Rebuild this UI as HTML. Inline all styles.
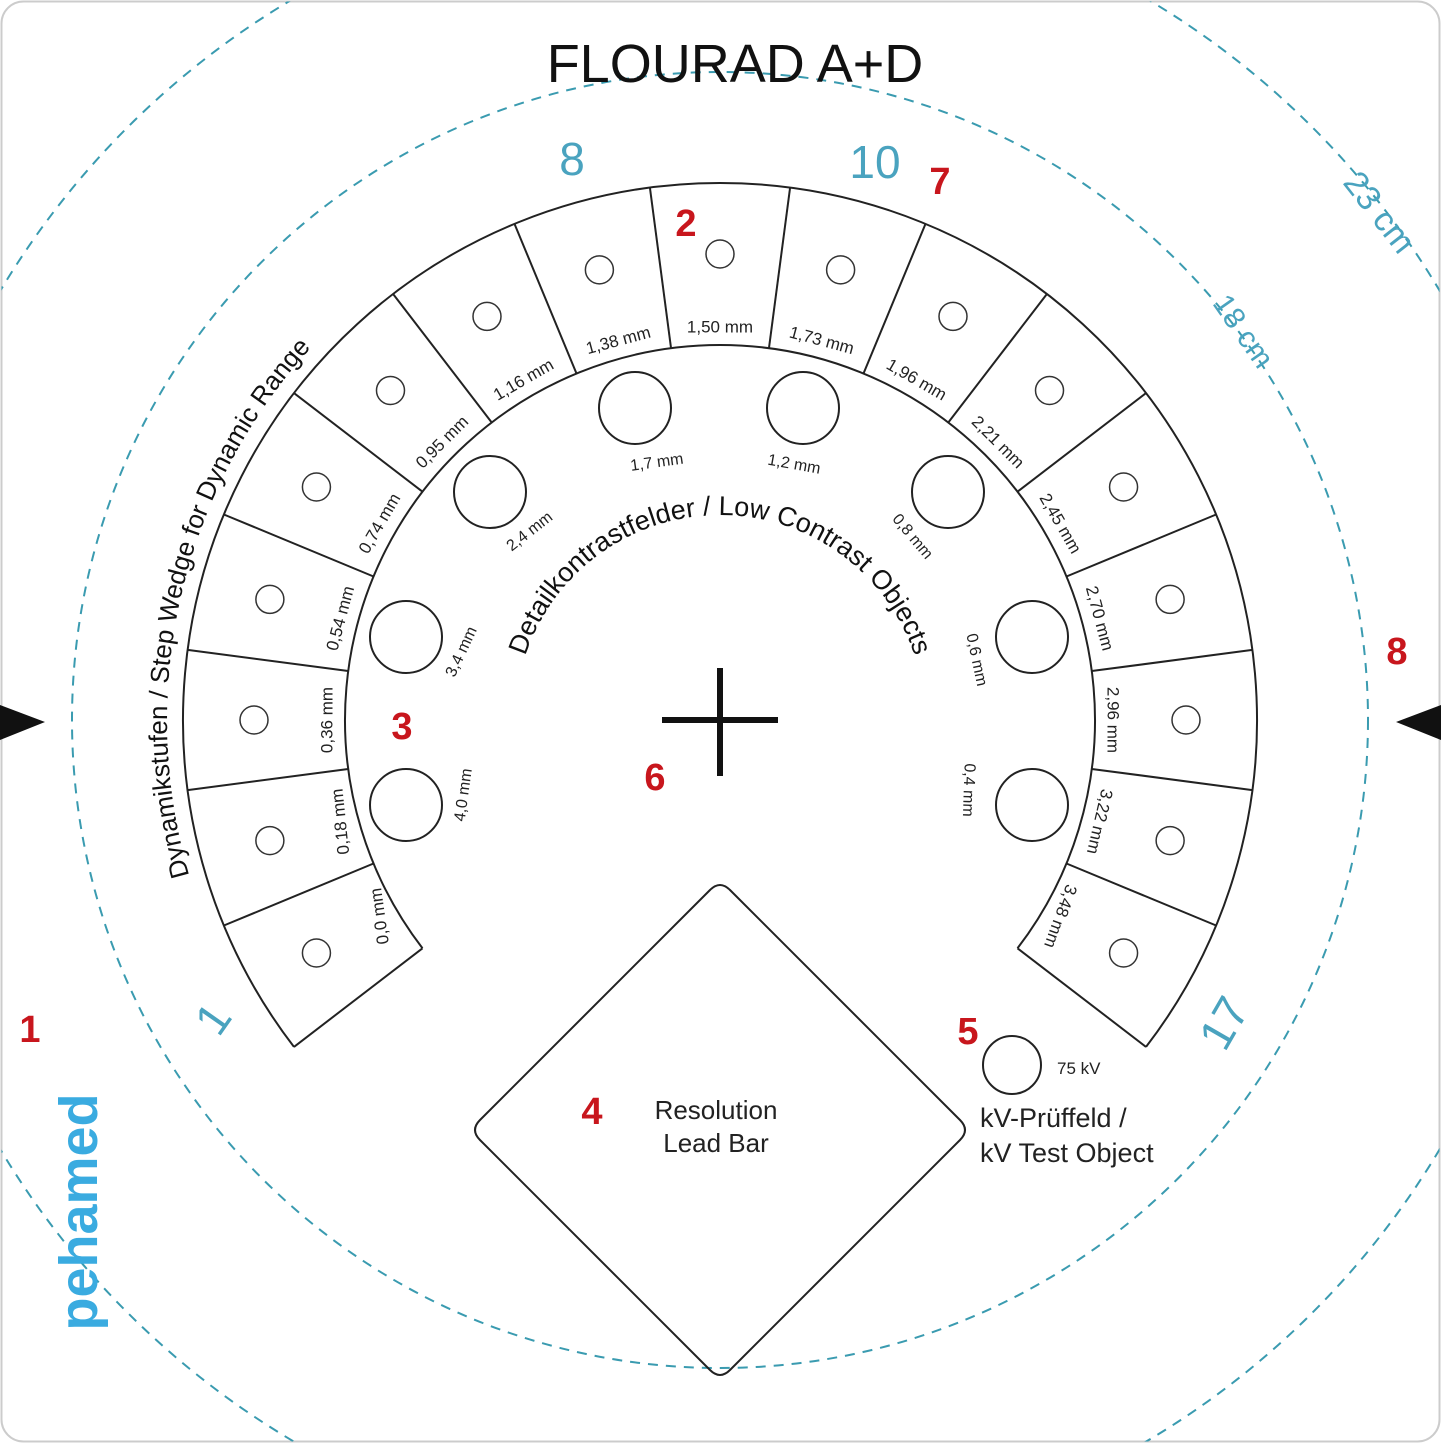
<!DOCTYPE html>
<html><head><meta charset="utf-8"><style>
html,body{margin:0;padding:0;background:#fff;width:1441px;height:1443px;overflow:hidden;}
svg{display:block;}
</style></head><body>
<svg id="s" width="1441" height="1443" viewBox="0 0 1441 1443" xmlns="http://www.w3.org/2000/svg" font-family="Liberation Sans, sans-serif">
<rect x="1.5" y="1.5" width="1438" height="1440" rx="22" fill="#fff" stroke="#ccc" stroke-width="2"/>
<defs>
<clipPath id="c"><rect x="1.5" y="1.5" width="1438" height="1440" rx="22"/></clipPath>
</defs>
<g clip-path="url(#c)" fill="none" stroke="#3a9bb0" stroke-width="2" stroke-dasharray="10,8">
<circle cx="720" cy="720" r="648"/>
<circle cx="720" cy="720" r="838"/>
</g>
<text x="735" y="82" font-size="54" text-anchor="middle" fill="#111" font-weight="300">FLOURAD A+D</text>
<g id="g"></g>
<path id="p1" d="" fill="none"/>
<path id="p2" d="" fill="none"/>
<text font-size="26" fill="#111"><textPath href="#p1" startOffset="50%" text-anchor="middle">Dynamikstufen / Step Wedge for Dynamic Range</textPath></text>
<text font-size="27" fill="#111"><textPath href="#p2" startOffset="50%" text-anchor="middle">Detailkontrastfelder / Low Contrast Objects</textPath></text>
<path d="M662 720H778M720 668V776" stroke="#111" stroke-width="6"/>
<path d="M710 890 Q720 880 730 890 L960 1120 Q970 1130 960 1140 L730 1370 Q720 1380 710 1370 L480 1140 Q470 1130 480 1120 Z" fill="none" stroke="#222" stroke-width="2"/>
<text x="716" y="1119" font-size="26" text-anchor="middle" fill="#222">Resolution</text>
<text x="716" y="1152" font-size="26" text-anchor="middle" fill="#222">Lead Bar</text>
<circle cx="1012" cy="1065" r="29" fill="none" stroke="#222" stroke-width="2"/>
<text x="1057" y="1074" font-size="17" fill="#222">75 kV</text>
<text x="980" y="1127" font-size="27" fill="#222">kV-Prüffeld /</text>
<text x="980" y="1162" font-size="27" fill="#222">kV Test Object</text>
<polygon points="0,705 45,722 0,740" fill="#111"/>
<polygon points="1441,705 1396,722 1441,740" fill="#111"/>
<g fill="#4aa3bf" font-size="46" text-anchor="middle">
<text x="572" y="175">8</text>
<text x="875" y="178">10</text>
<text x="212" y="1035" transform="rotate(-55 212 1018)">1</text>
<text x="1222" y="1040" transform="rotate(-60 1222 1022)">17</text>
<text x="1380" y="224" font-size="34" transform="rotate(52 1380 212)">23 cm</text>
<text x="1245" y="342" font-size="30" transform="rotate(55 1245 330)">18 cm</text>
</g>
<text x="-1212" y="97" font-size="54" font-weight="bold" fill="#3aabe0" text-anchor="middle" transform="rotate(-90)">pehamed</text>
<g fill="#c8161d" font-size="38" font-weight="bold" text-anchor="middle">
<text x="30" y="1042">1</text><text x="686" y="236">2</text><text x="402" y="739">3</text>
<text x="592" y="1124">4</text><text x="968" y="1044">5</text><text x="655" y="790">6</text>
<text x="940" y="194">7</text><text x="1397" y="664">8</text>
</g>
</svg>
<script>
var NS="http://www.w3.org/2000/svg",g=document.getElementById('g');
var cx=720,cy=720,Ri=375,Ro=537;
function P(r,a){a=a*Math.PI/180;return [cx+r*Math.cos(a),cy-r*Math.sin(a)];}
function el(t,at,txt){var e=document.createElementNS(NS,t);for(var k in at)e.setAttribute(k,at[k]);if(txt)e.textContent=txt;g.appendChild(e);return e;}
var a0=217.5,a1=-37.5;
var s=P(Ro,a0),e=P(Ro,a1),si=P(Ri,a0),ei=P(Ri,a1);
el('path',{d:'M'+s+' A'+Ro+' '+Ro+' 0 1 1 '+e+' M'+si+' A'+Ri+' '+Ri+' 0 1 1 '+ei,fill:'none',stroke:'#222','stroke-width':2});
for(var i=0;i<=17;i++){var a=a0-15*i,p=P(Ri,a),q=P(Ro,a);el('line',{x1:p[0],y1:p[1],x2:q[0],y2:q[1],stroke:'#222','stroke-width':2});}
var L=['0,0','0,18','0,36','0,54','0,74','0,95','1,16','1,38','1,50','1,73','1,96','2,21','2,45','2,70','2,96','3,22','3,48'];
for(var i=0;i<17;i++){var a=210-15*i,c=P(466,a);el('circle',{cx:c[0],cy:c[1],r:14,fill:'none',stroke:'#333','stroke-width':1.5});
var rot=90-a;if(i==0)rot=-98;if(i==1)rot=-96;if(i==16)rot=110;if(i==15)rot=103;
var t=P(392,a);el('text',{x:t[0],y:t[1],'font-size':17,'text-anchor':'middle','dominant-baseline':'middle',fill:'#222',transform:'rotate('+rot+' '+t[0]+' '+t[1]+')'},L[i]+' mm');}
var C=[[406,805,'4,0 mm',464,795,-82],[406,637,'3,4 mm',462,652,-65],[490,492,'2,4 mm',530,532,-38],[635,408,'1,7 mm',657,463,-8],[803,408,'1,2 mm',794,465,10],[948,492,'0,8 mm',912,537,50],[1032,637,'0,6 mm',976,660,78],[1032,805,'0,4 mm',968,790,92]];
C.forEach(function(c){el('circle',{cx:c[0],cy:c[1],r:36,fill:'none',stroke:'#222','stroke-width':2});el('text',{x:c[3],y:c[4],'font-size':16,'text-anchor':'middle','dominant-baseline':'middle',fill:'#222',transform:'rotate('+c[5]+' '+c[3]+' '+c[4]+')'},c[2]);});
function arc(r,b,e2){var p=P(r,b),q=P(r,e2);return 'M'+p+' A'+r+' '+r+' 0 0 1 '+q;}
document.getElementById('p1').setAttribute('d',arc(553,230,104));
document.getElementById('p2').setAttribute('d',arc(205,178,2));
</script>
</body></html>
